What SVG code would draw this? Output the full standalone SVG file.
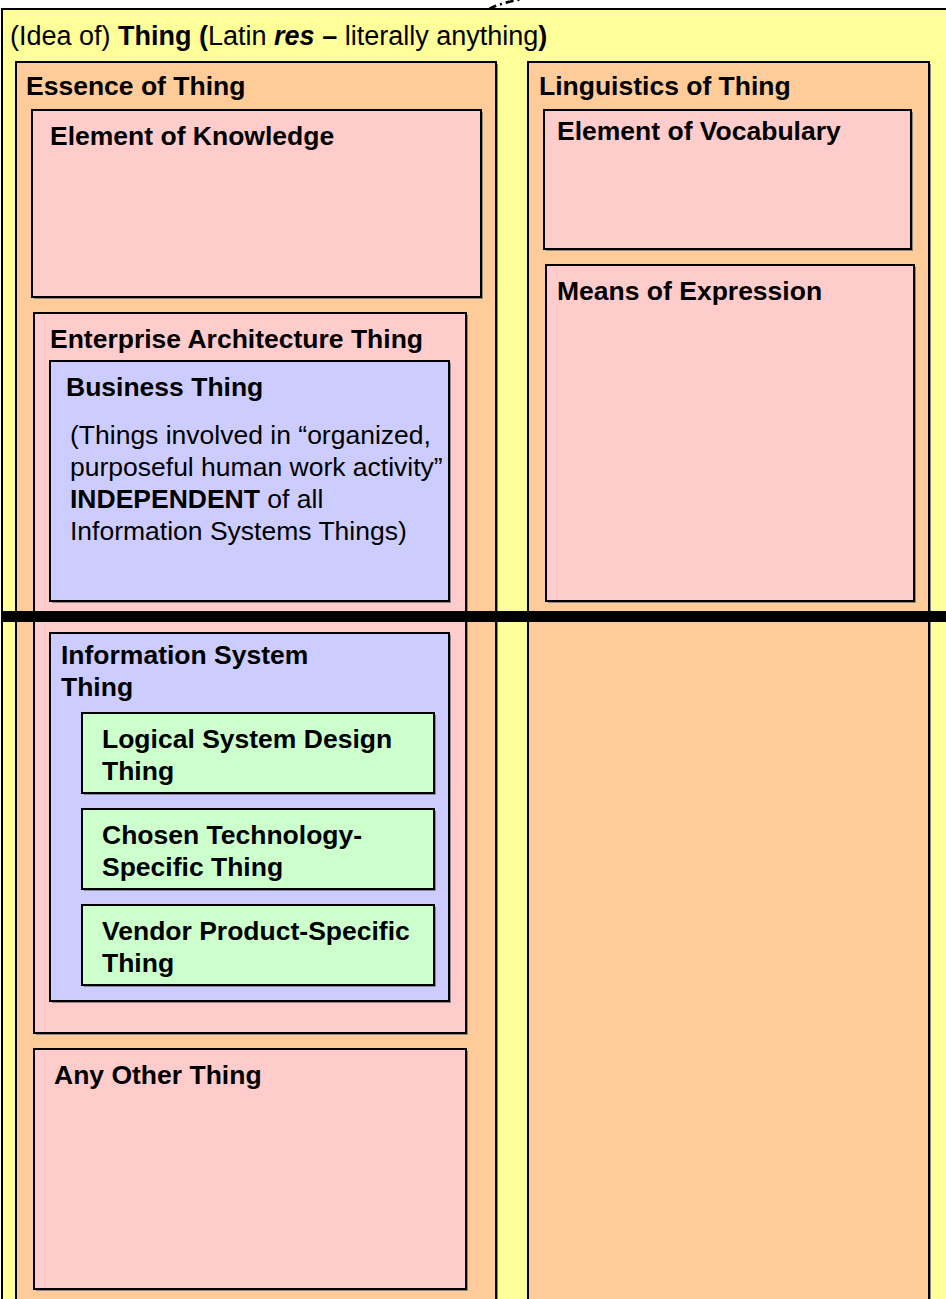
<svg xmlns="http://www.w3.org/2000/svg" width="946" height="1299" viewBox="0 0 946 1299">
<style>
.box{stroke:#000;stroke-width:2}
.sh{fill:#888}
.y{fill:#FFFF99}.o{fill:#FFCC99}.p{fill:#FFCCCC}.b{fill:#CCCCFF}.g{fill:#CCFFCC}
text{font-family:"Liberation Sans",Arial,sans-serif;font-size:26.5px;fill:#000}
.h{font-weight:bold}
</style>
<rect width="946" height="1299" fill="#fff"/>
<g id="thing">
<rect class="sh" x="4" y="11" width="960" height="1310"/>
<rect class="box y" x="2" y="9" width="960" height="1310"/>
<text x="10" y="45" style="font-size:27px">(Idea of) <tspan class="h">Thing (</tspan>Latin <tspan class="h" font-style="italic">res</tspan><tspan class="h"> –</tspan> literally anything<tspan class="h">)</tspan></text>
</g>
<g id="essence">
<rect class="sh" x="18" y="64" width="480" height="1260"/>
<rect class="box o" x="16" y="62" width="480" height="1260"/>
<text class="h" x="26" y="95">Essence of Thing</text>
</g>
<g id="linguistics">
<rect class="sh" x="530" y="64" width="401" height="1260"/>
<rect class="box o" x="528" y="62" width="401" height="1260"/>
<text class="h" x="539" y="95">Linguistics of Thing</text>
</g>
<g id="knowledge">
<rect class="sh" x="34" y="112" width="449" height="187"/>
<rect class="box p" x="32" y="110" width="449" height="187"/>
<text class="h" x="50" y="145">Element of Knowledge</text>
</g>
<g id="vocabulary">
<rect class="sh" x="546" y="112" width="367" height="139"/>
<rect class="box p" x="544" y="110" width="367" height="139"/>
<text class="h" x="557" y="140">Element of Vocabulary</text>
</g>
<g id="expression">
<rect class="sh" x="548" y="267" width="368" height="336"/>
<rect class="box p" x="546" y="265" width="368" height="336"/>
<text class="h" x="557" y="300">Means of Expression</text>
</g>
<g id="enterprise">
<rect class="sh" x="36" y="315" width="432" height="720"/>
<rect class="box p" x="34" y="313" width="432" height="720"/>
<text class="h" x="50" y="348">Enterprise Architecture Thing</text>
</g>
<g id="business">
<rect class="sh" x="52" y="363" width="399" height="240"/>
<rect class="box b" x="50" y="361" width="399" height="240"/>
<text class="h" x="66" y="396">Business Thing</text>
<text x="70" y="444">(Things involved in “organized,</text>
<text x="70" y="476">purposeful human work activity”</text>
<text x="70" y="508"><tspan class="h">INDEPENDENT</tspan> of all</text>
<text x="70" y="540">Information Systems Things)</text>
</g>
<g id="infosys">
<rect class="sh" x="52" y="635" width="399" height="368"/>
<rect class="box b" x="50" y="633" width="399" height="368"/>
<text class="h" x="61" y="664">Information System</text>
<text class="h" x="61" y="696">Thing</text>
</g>
<g id="logical">
<rect class="sh" x="84" y="715" width="352" height="80"/>
<rect class="box g" x="82" y="713" width="352" height="80"/>
<text class="h" x="102" y="748">Logical System Design</text>
<text class="h" x="102" y="780">Thing</text>
</g>
<g id="chosen">
<rect class="sh" x="84" y="811" width="352" height="80"/>
<rect class="box g" x="82" y="809" width="352" height="80"/>
<text class="h" x="102" y="844">Chosen Technology-</text>
<text class="h" x="102" y="876">Specific Thing</text>
</g>
<g id="vendor">
<rect class="sh" x="84" y="907" width="352" height="80"/>
<rect class="box g" x="82" y="905" width="352" height="80"/>
<text class="h" x="102" y="940">Vendor Product-Specific</text>
<text class="h" x="102" y="972">Thing</text>
</g>
<g id="other">
<rect class="sh" x="36" y="1051" width="432" height="240"/>
<rect class="box p" x="34" y="1049" width="432" height="240"/>
<text class="h" x="54" y="1084">Any Other Thing</text>
</g>
<g id="divider">
<rect x="2" y="611" width="944" height="11" fill="#000"/>
</g>
<g id="connectors">
<path d="M489,9 Q500,3 523,-1" fill="none" stroke="#000" stroke-width="2.5" stroke-dasharray="8,4,2,4"/>
</g>
</svg>
